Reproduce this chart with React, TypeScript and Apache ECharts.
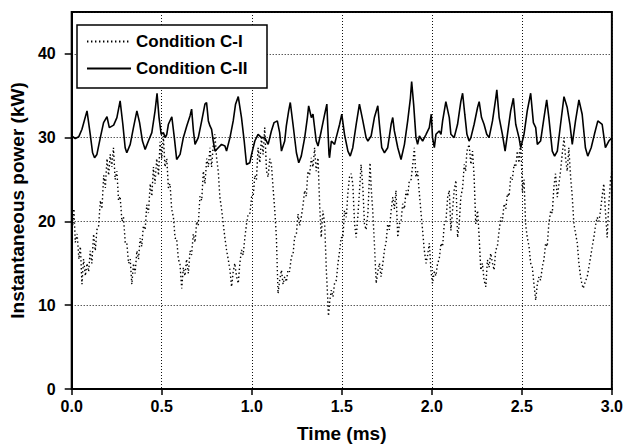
import React, { useEffect, useRef } from "react";
import * as echarts from "echarts";

// Condition C-I (dotted) — time (ms) and instantaneous power (kW)
const c1Time = [
  0.000, 0.006, 0.012, 0.020, 0.030, 0.040, 0.048, 0.057, 0.066, 0.076, 0.085, 0.094, 0.103, 0.112, 0.122, 0.131,
  0.140, 0.150, 0.159, 0.168, 0.178, 0.187, 0.196, 0.205, 0.214, 0.223, 0.232, 0.241, 0.251, 0.260, 0.269, 0.279,
  0.288, 0.297, 0.306, 0.316, 0.325, 0.334, 0.343, 0.352, 0.362, 0.371, 0.380, 0.389, 0.398, 0.408, 0.417, 0.426,
  0.436, 0.445, 0.454, 0.463, 0.472, 0.482, 0.491, 0.500, 0.509, 0.518, 0.528, 0.537, 0.546, 0.555, 0.565, 0.574,
  0.583, 0.592, 0.601, 0.611, 0.620, 0.629, 0.638, 0.648, 0.657, 0.666, 0.675, 0.685, 0.694, 0.703, 0.712, 0.722,
  0.731, 0.740, 0.750, 0.759, 0.768, 0.777, 0.786, 0.795, 0.805, 0.814, 0.823, 0.832, 0.842, 0.851, 0.860, 0.869,
  0.879, 0.888, 0.897, 0.906, 0.915, 0.925, 0.934, 0.943, 0.952, 0.962, 0.971, 0.980, 0.990, 0.999, 1.008, 1.017,
  1.026, 1.035, 1.045, 1.054, 1.063, 1.072, 1.082, 1.091, 1.100, 1.109, 1.118, 1.128, 1.137, 1.142, 1.146, 1.155,
  1.165, 1.174, 1.183, 1.192, 1.201, 1.210, 1.220, 1.229, 1.238, 1.248, 1.257, 1.266, 1.275, 1.285, 1.294, 1.303,
  1.312, 1.321, 1.331, 1.340, 1.349, 1.358, 1.368, 1.377, 1.386, 1.395, 1.405, 1.414, 1.423, 1.426, 1.433, 1.442,
  1.451, 1.460, 1.470, 1.479, 1.488, 1.497, 1.506, 1.515, 1.525, 1.534, 1.543, 1.552, 1.561, 1.571, 1.580, 1.589,
  1.598, 1.607, 1.617, 1.626, 1.635, 1.645, 1.651, 1.657, 1.663, 1.672, 1.681, 1.691, 1.700, 1.709, 1.718, 1.728,
  1.737, 1.746, 1.755, 1.764, 1.774, 1.783, 1.792, 1.801, 1.811, 1.820, 1.829, 1.838, 1.848, 1.857, 1.866, 1.875,
  1.885, 1.894, 1.903, 1.912, 1.921, 1.931, 1.940, 1.949, 1.958, 1.968, 1.977, 1.986, 1.995, 2.004, 2.014, 2.023,
  2.032, 2.041, 2.051, 2.060, 2.069, 2.078, 2.088, 2.097, 2.106, 2.115, 2.124, 2.134, 2.143, 2.152, 2.161, 2.171,
  2.180, 2.188, 2.195, 2.207, 2.217, 2.226, 2.235, 2.244, 2.254, 2.263, 2.272, 2.281, 2.290, 2.300, 2.309, 2.318,
  2.327, 2.337, 2.346, 2.355, 2.364, 2.374, 2.383, 2.392, 2.401, 2.411, 2.420, 2.429, 2.438, 2.447, 2.457, 2.466,
  2.475, 2.484, 2.494, 2.503, 2.512, 2.521, 2.530, 2.540, 2.549, 2.558, 2.567, 2.577, 2.586, 2.595, 2.604, 2.614,
  2.623, 2.632, 2.641, 2.650, 2.660, 2.669, 2.678, 2.687, 2.697, 2.706, 2.715, 2.724, 2.734, 2.743, 2.752, 2.761,
  2.771, 2.780, 2.789, 2.799, 2.808, 2.817, 2.826, 2.834, 2.841, 2.852, 2.863, 2.872, 2.882, 2.891, 2.900, 2.909,
  2.918, 2.928, 2.937, 2.946, 2.955, 2.964, 2.974, 2.983, 2.992, 3.000,
];
const c1Power = [
  24.0, 19.5, 21.5, 17.5, 18.5, 15.5, 17.0, 12.5, 15.5, 13.5, 15.0, 14.0, 16.5, 15.0, 18.5, 16.5,
  19.0, 19.5, 22.5, 21.5, 25.5, 24.0, 27.5, 25.5, 28.0, 26.5, 28.8, 25.0, 26.0, 22.5, 23.0, 20.0,
  20.5, 17.5, 17.5, 15.0, 15.5, 12.5, 15.0, 13.8, 16.5, 15.5, 18.0, 17.0, 19.5, 19.0, 22.0, 21.0,
  24.5, 23.0, 26.5, 24.5, 27.5, 25.5, 29.5, 27.5, 30.2, 26.5, 27.5, 24.0, 24.5, 21.5, 20.5, 18.0,
  18.0, 15.5, 15.0, 12.0, 14.5, 13.5, 15.5, 13.8, 16.5, 16.0, 18.5, 17.5, 20.0, 19.5, 23.0, 22.5,
  26.0, 24.5, 27.5, 26.5, 28.8, 26.5, 29.0, 30.4, 27.5, 26.0, 22.9, 21.5, 19.7, 18.0, 16.6, 15.5,
  14.2, 12.2, 14.0, 15.0, 13.5, 12.6, 15.0, 16.6, 16.0, 18.1, 19.7, 20.9, 21.0, 22.9, 23.0, 25.5,
  25.0, 28.8, 27.0, 30.0, 28.0, 31.2, 26.0, 25.3, 27.5, 26.8, 24.1, 21.3, 18.1, 14.2, 11.4, 13.0,
  14.2, 12.5, 13.4, 12.8, 14.2, 14.0, 15.8, 16.0, 18.1, 18.5, 20.9, 19.5, 20.5, 22.0, 23.7, 23.0,
  26.0, 25.5, 27.6, 26.5, 28.8, 26.0, 27.6, 22.1, 18.1, 21.3, 19.7, 14.2, 10.2, 8.7, 10.5, 11.8,
  11.0, 12.6, 13.0, 15.0, 16.5, 18.1, 18.0, 21.3, 20.5, 23.5, 25.3, 25.7, 24.5, 19.7, 18.1, 20.5,
  23.5, 26.8, 24.1, 19.7, 19.0, 20.9, 24.0, 27.0, 24.1, 21.3, 17.4, 12.6, 14.0, 15.0, 13.4, 15.0,
  16.6, 17.5, 19.7, 19.0, 21.3, 22.9, 21.5, 23.7, 18.1, 19.7, 20.0, 22.1, 21.5, 23.7, 23.0, 24.9,
  25.0, 26.8, 28.8, 25.3, 26.0, 23.3, 21.0, 18.9, 16.6, 15.0, 16.0, 17.4, 14.2, 12.6, 14.0, 13.5,
  15.0, 15.5, 17.4, 17.0, 19.7, 20.0, 22.9, 23.7, 18.9, 21.3, 23.7, 24.9, 18.1, 19.7, 22.9, 24.0,
  26.8, 26.0, 28.4, 29.2, 26.8, 28.4, 25.3, 19.7, 21.3, 18.1, 14.2, 15.0, 13.0, 12.2, 15.4, 14.5,
  16.2, 15.0, 14.2, 16.6, 17.0, 18.9, 20.5, 20.0, 22.1, 21.5, 23.3, 23.0, 25.3, 25.0, 26.8, 26.5,
  28.4, 27.0, 29.6, 23.5, 25.0, 19.7, 18.1, 17.0, 15.0, 14.5, 12.6, 10.6, 12.5, 13.4, 13.0, 14.6,
  15.5, 17.4, 17.0, 19.7, 21.3, 21.0, 24.1, 25.7, 22.9, 24.5, 26.0, 28.0, 30.0, 27.5, 26.0, 28.8,
  25.3, 22.9, 19.7, 18.5, 17.4, 15.0, 13.4, 12.5, 12.0, 12.8, 13.4, 14.5, 15.8, 17.0, 18.1, 19.5,
  20.5, 20.0, 21.3, 23.0, 24.5, 21.3, 18.1, 22.0, 24.9, 26.0,
];

// Condition C-II (solid) — time (ms) and instantaneous power (kW)
const c2Time = [
  0.000, 0.020, 0.039, 0.057, 0.085, 0.103, 0.116, 0.127, 0.140, 0.159, 0.177, 0.196, 0.209, 0.233, 0.251, 0.269,
  0.284, 0.297, 0.306, 0.325, 0.343, 0.362, 0.377, 0.393, 0.408, 0.426, 0.445, 0.463, 0.474, 0.485, 0.497, 0.509,
  0.520, 0.528, 0.537, 0.556, 0.570, 0.583, 0.602, 0.620, 0.639, 0.657, 0.666, 0.676, 0.685, 0.703, 0.722, 0.740,
  0.749, 0.759, 0.768, 0.777, 0.786, 0.796, 0.814, 0.832, 0.851, 0.860, 0.879, 0.897, 0.910, 0.925, 0.943, 0.958,
  0.971, 0.989, 0.999, 1.017, 1.035, 1.054, 1.072, 1.091, 1.109, 1.124, 1.142, 1.155, 1.165, 1.183, 1.192, 1.205,
  1.214, 1.229, 1.248, 1.261, 1.275, 1.294, 1.309, 1.316, 1.331, 1.340, 1.358, 1.368, 1.386, 1.405, 1.417, 1.429,
  1.432, 1.442, 1.460, 1.469, 1.488, 1.500, 1.515, 1.534, 1.547, 1.561, 1.580, 1.598, 1.617, 1.635, 1.645, 1.663,
  1.681, 1.700, 1.709, 1.722, 1.737, 1.755, 1.774, 1.783, 1.792, 1.811, 1.829, 1.848, 1.866, 1.881, 1.888, 1.899,
  1.912, 1.921, 1.931, 1.949, 1.968, 1.986, 1.997, 2.004, 2.014, 2.023, 2.041, 2.051, 2.060, 2.078, 2.097, 2.106,
  2.124, 2.143, 2.161, 2.171, 2.183, 2.195, 2.207, 2.217, 2.235, 2.254, 2.263, 2.276, 2.290, 2.305, 2.318, 2.337,
  2.355, 2.361, 2.374, 2.392, 2.407, 2.420, 2.438, 2.453, 2.466, 2.484, 2.494, 2.512, 2.530, 2.549, 2.564, 2.577,
  2.586, 2.604, 2.623, 2.638, 2.650, 2.669, 2.682, 2.697, 2.715, 2.734, 2.752, 2.767, 2.780, 2.798, 2.817, 2.835,
  2.853, 2.866, 2.885, 2.903, 2.922, 2.946, 2.964, 2.983, 3.000,
];
const c2Power = [
  30.2, 29.9, 30.1, 31.0, 33.2, 30.4, 28.2, 27.6, 28.0, 30.0, 31.8, 32.5, 31.2, 31.5, 32.4, 34.4,
  31.6, 28.8, 28.2, 29.2, 31.2, 33.2, 31.8, 29.6, 28.6, 29.6, 30.6, 33.2, 35.3, 32.4, 30.4, 30.6,
  30.0, 30.4, 31.6, 32.5, 30.0, 27.4, 28.0, 30.0, 31.4, 32.6, 33.4, 30.8, 29.2, 30.0, 32.0, 34.0,
  34.2, 32.0, 31.4, 31.0, 29.6, 28.4, 28.8, 29.2, 29.0, 28.4, 30.0, 32.0, 34.0, 34.9, 32.4, 29.6,
  26.8, 27.0, 28.0, 29.6, 30.4, 30.0, 30.0, 29.2, 30.8, 31.8, 32.0, 30.6, 28.4, 29.6, 31.4, 33.2,
  34.2, 31.6, 28.2, 27.0, 27.8, 30.0, 32.4, 33.8, 32.4, 32.8, 29.6, 29.0, 30.8, 32.8, 34.0, 28.0,
  27.6, 29.6, 29.2, 30.0, 31.6, 32.8, 30.4, 28.4, 27.8, 28.8, 31.6, 34.0, 32.0, 30.0, 29.6, 30.2,
  32.4, 33.8, 31.6, 28.8, 28.2, 28.8, 31.6, 32.4, 30.8, 28.8, 27.4, 29.2, 32.0, 34.7, 36.7, 34.0,
  30.0, 29.2, 30.2, 29.6, 30.4, 31.2, 32.8, 30.0, 28.8, 30.4, 30.8, 30.4, 32.0, 34.3, 32.4, 30.4,
  30.0, 31.6, 34.3, 35.3, 32.8, 30.4, 29.6, 30.0, 31.6, 33.6, 34.3, 32.4, 31.6, 30.4, 30.0, 32.0,
  34.7, 35.7, 32.4, 30.4, 28.4, 30.4, 33.2, 34.7, 31.6, 30.0, 28.8, 30.4, 33.2, 35.3, 31.8, 31.2,
  29.2, 29.6, 32.4, 34.5, 32.4, 28.4, 27.8, 28.4, 31.6, 34.9, 33.6, 31.6, 29.2, 32.0, 34.5, 32.8,
  28.8, 27.8, 28.8, 30.4, 32.0, 31.6, 28.8, 29.6, 30.0,
];

// Axis ticks
const xTicks = [0.0, 0.5, 1.0, 1.5, 2.0, 2.5, 3.0];
const yTicks = [0, 10, 20, 30, 40];

const FONT = "'Liberation Sans', Arial, Helvetica, sans-serif";

export default function App() {
  const ref = useRef<HTMLDivElement>(null);

  useEffect(() => {
    if (!ref.current) return;
    const chart = echarts.init(ref.current, undefined, { renderer: "svg" });
    const c1 = c1Time.map((t, i) => [t, c1Power[i]]);
    const c2 = c2Time.map((t, i) => [t, c2Power[i]]);

    chart.setOption({
      animation: false,
      backgroundColor: "#ffffff",
      textStyle: { fontFamily: FONT },
      grid: {
        left: 71,
        right: 13,
        top: 12,
        bottom: 56,
        show: true,
        borderColor: "#000",
        borderWidth: 2,
        backgroundColor: "transparent",
      },
      xAxis: {
        type: "value",
        min: xTicks[0],
        max: xTicks[xTicks.length - 1],
        interval: 0.5,
        name: "Time (ms)",
        nameLocation: "middle",
        nameGap: 35,
        nameTextStyle: { fontFamily: FONT, fontWeight: "bold", fontSize: 19, color: "#000" },
        axisLine: { show: true, lineStyle: { color: "#000", width: 2 } },
        axisTick: { show: true, length: 6, lineStyle: { color: "#000", width: 1.5 } },
        axisLabel: {
          margin: 9,
          fontFamily: FONT,
          fontWeight: "bold",
          fontSize: 16,
          color: "#000",
          formatter: (v: number) => v.toFixed(1),
        },
        splitLine: { show: true, lineStyle: { color: "#111", width: 1, type: [1, 2] } },
      },
      yAxis: {
        type: "value",
        min: yTicks[0],
        max: 45,
        interval: 10,
        name: "Instantaneous power (kW)",
        nameLocation: "middle",
        nameGap: 35,
        nameTextStyle: { fontFamily: FONT, fontWeight: "bold", fontSize: 19, color: "#000" },
        axisLine: { show: true, lineStyle: { color: "#000", width: 2 } },
        axisTick: { show: true, length: 7, lineStyle: { color: "#000", width: 1.5 } },
        axisLabel: {
          margin: 16,
          fontFamily: FONT,
          fontWeight: "bold",
          fontSize: 16,
          color: "#000",
          showMaxLabel: false,
          formatter: (v: number) => (yTicks.includes(v) ? String(v) : ""),
        },
        splitLine: { show: true, lineStyle: { color: "#111", width: 1, type: [1, 2] } },
      },
      legend: {
        left: 86,
        top: 33,
        orient: "vertical",
        itemWidth: 44,
        itemHeight: 14,
        itemGap: 10,
        padding: 0,
        z: 10,
        itemStyle: { color: "transparent", borderWidth: 0, opacity: 0 },
        textStyle: { fontFamily: FONT, fontWeight: "bold", fontSize: 17, color: "#000" },
        data: ["Condition C-I", "Condition C-II"],
      },
      graphic: [
        {
          type: "rect",
          z: 5,
          shape: { x: 77, y: 25, width: 190, height: 63 },
          style: { fill: "#fff", stroke: "#000", lineWidth: 1.5 },
        },
      ],
      series: [
        {
          name: "Condition C-I",
          type: "line",
          data: c1,
          symbol: "none",
          lineStyle: { color: "#000", width: 1.4, type: [1.4, 2.6] },
          itemStyle: { color: "#000" },
        },
        {
          name: "Condition C-II",
          type: "line",
          data: c2,
          symbol: "none",
          lineStyle: { color: "#000", width: 1.6 },
          itemStyle: { color: "#000" },
        },
      ],
    });

    return () => chart.dispose();
  }, []);

  return (
    <div
      ref={ref}
      style={{ position: "fixed", left: 0, top: 0, width: 626, height: 448, background: "#fff" }}
    />
  );
}
